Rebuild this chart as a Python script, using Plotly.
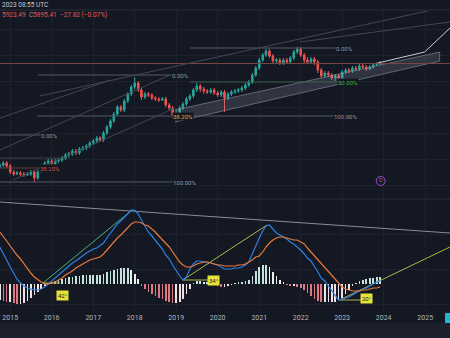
import pandas as pd
import plotly.graph_objects as go

BG = "#141823"
GRID = "#1e2230"

# ---------------- data ----------------
months = pd.date_range("2014-10-01", periods=111, freq="MS")

opens = [1419,1505,1591,1462,1204,1118,1161,1118,1075,1118,1204,946,1204,1462,1591,1677,1548,1677,1720,1806,
         1935,1978,2107,2021,2193,2236,2322,2451,2537,2666,2580,2881,3139,3397,3698,3999,3870,4257,4558,4859,
         5031,4730,4429,4558,4515,4386,4343,4300,4343,4085,3956,3655,3741,3956,4128,4343,4472,4730,4902,4773,
         4687,4644,4730,4601,4515,4644,4386,4558,4644,4687,4730,4816,4945,5074,5375,5676,6020,6235,6407,6192,
         5977,6020,5891,6020,5934,6106,6364,6493,6235,6020,5934,6063,5934,5590,5332,5461,5375,5246,5332,5203,
         5504,5590,5547,5676,5633,5762,5719,5633,5719,5805,5848]
highs = [1591,1677,1677,1548,1290,1247,1247,1204,1204,1290,1290,1290,1548,1677,1763,1763,1763,1806,1892,2021,
         2064,2193,2193,2279,2322,2408,2537,2623,2752,2752,2967,3225,3483,3784,4085,4085,4343,4644,4945,5289,
         5117,4816,4644,4644,4601,4472,4429,4429,4429,4171,4042,3870,4042,4214,4429,4558,4816,5031,4988,4859,
         4773,4816,4816,4687,4730,4730,4644,4730,4773,4816,4902,5031,5160,5461,5762,6106,6321,6493,6493,6278,
         6106,6106,6106,6106,6192,6450,6579,6579,6321,6149,6149,6149,6020,5676,5547,5547,5461,5418,5418,5590,
         5676,5676,5762,5762,5848,5848,5805,5805,5891,5934,5977]
lows = [1333,1419,1376,1118,1032,1075,1032,989,1032,1032,774,860,1161,1376,1505,1376,1419,1591,1634,1720,
        1806,1892,1935,1935,2107,2150,2236,2365,2451,2494,2494,2795,3053,3311,3612,3784,3784,4171,4472,4773,
        4644,4300,4343,4429,4300,4257,4214,4257,3999,3827,3526,3569,3655,3870,4042,4257,4386,4644,4644,4558,
        4558,4558,4515,4429,4429,3784,4300,4472,4558,4601,4644,4730,4859,4988,5289,5590,5934,6149,6106,5891,
        5891,5805,5805,5848,5848,6020,6278,6149,5891,5848,5848,5805,5461,5246,5246,5289,5160,5117,5117,5117,
        5418,5461,5461,5547,5547,5633,5547,5590,5633,5762,5805]
closes = [1505,1591,1462,1204,1118,1161,1118,1075,1118,1204,946,1204,1462,1591,1677,1548,1677,1720,1806,1935,
          1978,2107,2021,2193,2236,2322,2451,2537,2666,2580,2881,3139,3397,3698,3999,3870,4257,4558,4859,5031,
          4730,4429,4558,4515,4386,4343,4300,4343,4085,3956,3655,3741,3956,4128,4343,4472,4730,4902,4773,4687,
          4644,4730,4601,4515,4644,4386,4558,4644,4687,4730,4816,4945,5074,5375,5676,6020,6235,6407,6192,5977,
          6020,5891,6020,5934,6106,6364,6493,6235,6020,5934,6063,5934,5590,5332,5461,5375,5246,5332,5203,5504,
          5590,5547,5676,5633,5762,5719,5633,5719,5805,5848,5891]

macd_line = [370,310,240,170,110,50,10,-20,-40,-50,-60,-60,-50,-30,0,30,60,90,120,150,
             180,210,230,260,280,310,330,350,360,380,410,460,510,560,600,630,670,710,740,740,
             700,640,580,520,480,440,400,350,290,250,190,130,80,40,70,150,200,230,230,220,
             220,210,200,190,170,150,150,150,160,160,170,190,220,300,390,460,530,580,590,550,
             510,490,470,450,420,400,370,340,300,260,230,180,120,60,30,-20,-70,-120,-160,-150,
             -140,-130,-110,-90,-70,-50,-40,-20,0,20,40]
signal_line = [520,480,430,380,330,290,250,200,160,110,70,40,20,0,0,10,20,40,60,90,
               110,130,160,180,200,220,240,250,260,270,300,340,380,420,460,490,530,570,600,620,
               620,610,590,580,550,520,480,440,400,370,320,270,220,190,170,170,180,200,210,220,
               220,210,200,190,190,180,180,180,180,190,190,200,220,240,270,280,320,370,410,440,
               460,470,470,460,450,440,440,420,400,360,320,280,240,200,160,120,80,40,0,-30,
               -50,-60,-70,-70,-70,-60,-60,-50,-40,-40,-30]
hist_vals = [-160,-170,-180,-180,-190,-200,-200,-190,-170,-140,-110,-80,-50,-20,10,20,30,40,50,60,
             70,70,80,80,90,90,90,90,90,90,100,120,130,140,150,160,160,160,140,100,
             50,-20,-50,-80,-100,-120,-140,-150,-170,-180,-190,-190,-180,-150,-100,-50,10,30,30,20,
             20,10,-10,-20,-30,-30,-20,-10,10,20,20,30,40,80,130,170,190,190,170,120,
             80,40,20,-10,-20,-20,-30,-40,-60,-90,-120,-150,-170,-180,-180,-180,-180,-180,-160,-140,
             -100,-60,-20,10,30,40,50,60,60,70,70]

# drawing anchors (date, price) in the price pane
hlines = [  # start, end, level, colour
    ("2014-10-03", "2025-08-07", 5870, "#7a4640"),
    ("2019-05-01", "2022-11-15", 6536, "#545866"),
    ("2019-05-01", "2022-11-15", 5074, "#3f5a48"),
    ("2015-09-02", "2018-12-21", 5375, "#545866"),
    ("2015-08-24", "2022-11-15", 3612, "#545866"),
    ("2014-10-03", "2015-10-16", 2795, "#545866"),
    ("2014-10-03", "2016-03-14", 1806, "#3c404c"),
    ("2014-10-03", "2015-10-16", 1376, "#6a3a3a"),
    ("2014-10-03", "2019-01-08", 774, "#545866"),
]
level_labels = [  # date, price, text, colour
    ("2023-01-25", 6536, "0.00%", "#9598a1"),
    ("2019-02-12", 5375, "0.00%", "#9598a1"),
    ("2019-03-01", 3612, "38.20%", "#e0a040"),
    ("2023-02-03", 3612, "100.00%", "#9598a1"),
    ("2015-12-16", 2795, "0.00%", "#9598a1"),
    ("2015-12-16", 1376, "38.20%", "#c9504a"),
    ("2019-03-18", 774, "100.00%", "#9598a1"),
    ("2023-02-20", 5074, "50.00%", "#4caf50"),
]
trend_lines = [  # (date, price) pairs
    (("2014-10-03", 2150), ("2018-11-07", 5375)),
    (("2015-01-25", 860), ("2018-12-21", 3956)),
    (("2014-10-03", 3526), ("2017-06-01", 5160)),
    (("2015-09-19", 4472), ("2025-08-07", 8342)),
    (("2021-12-25", 6794), ("2025-08-07", 7654)),
]
band_dates = ["2018-12-21", "2025-05-08", "2025-05-08", "2018-12-21"]
band_prices = [3870, 6364, 5977, 3354]
fan_dates = ["2023-11-10", "2024-12-27", "2025-08-07"]
fan_prices = [5891, 6364, 7396]

# drawing anchors in the MACD pane
macd_trend = [  # start, end, colour
    (("2014-10-03", 820), ("2025-08-07", 510), "#8a8d96"),
    (("2015-10-16", 10), ("2017-12-08", 740), "#4caf7a"),
    (("2019-03-01", 40), ("2021-03-10", 590), "#b0b347"),
    (("2022-12-09", -160), ("2025-08-07", 370), "#b0b347"),
    (("2015-10-16", 10), ("2016-03-14", 10), "#b0b347"),
    (("2019-03-01", 40), ("2019-10-15", 40), "#b0b347"),
    (("2022-12-09", -160), ("2023-06-15", -160), "#b0b347"),
]
angle_labels = [("2016-04-08", -110, "42°"), ("2019-11-22", 40, "34°"), ("2023-08-07", -140, "20°")]

# ---------------- figure ----------------
fig = go.Figure()

fig.add_trace(go.Scatter(x=band_dates, y=band_prices, fill="toself", mode="lines",
                         line=dict(color="rgba(150,155,170,0.55)", width=1),
                         fillcolor="rgba(150,155,170,0.22)", xaxis="x", yaxis="y",
                         showlegend=False, hoverinfo="skip"))
for a, b, lvl, col in hlines:
    fig.add_trace(go.Scatter(x=[a, b], y=[lvl, lvl], mode="lines", line=dict(color=col, width=1),
                             xaxis="x", yaxis="y", showlegend=False, hoverinfo="skip"))
for (d0, p0), (d1, p1) in trend_lines:
    fig.add_trace(go.Scatter(x=[d0, d1], y=[p0, p1], mode="lines", line=dict(color="#434756", width=1),
                             xaxis="x", yaxis="y", showlegend=False, hoverinfo="skip"))
fig.add_trace(go.Scatter(x=fan_dates, y=fan_prices, mode="lines", line=dict(color="#c9ccd4", width=1),
                         xaxis="x", yaxis="y", showlegend=False, hoverinfo="skip"))

fig.add_trace(go.Candlestick(
    x=months, open=opens, high=highs, low=lows, close=closes,
    increasing=dict(line=dict(color="#26a69a", width=1), fillcolor="#26a69a"),
    decreasing=dict(line=dict(color="#ef5350", width=1), fillcolor="#ef5350"),
    whiskerwidth=0, xaxis="x", yaxis="y", showlegend=False, hoverinfo="skip"))

fig.add_trace(go.Scatter(x=["2023-12-06"], y=[817], mode="markers+text", text=["D"],
                         textfont=dict(size=5, color="#b05ad0"), textposition="middle center",
                         marker=dict(symbol="circle-open", size=9, color="#9c4dcc", line=dict(width=1)),
                         xaxis="x", yaxis="y", showlegend=False, hoverinfo="skip"))

# MACD pane
hcolors = []
for k, v in enumerate(hist_vals):
    prev = hist_vals[k - 1] if k else v
    if v >= 0:
        hcolors.append("#c4e3dc" if v >= prev else "#e9f0ee")
    else:
        hcolors.append("#dc7880" if v < prev else "#efe2e4")
fig.add_trace(go.Bar(x=months, y=hist_vals, marker=dict(color=hcolors, line=dict(width=0)),
                     width=4.5e8, xaxis="x2", yaxis="y2", showlegend=False, hoverinfo="skip"))
for (d0, v0), (d1, v1), col in macd_trend:
    fig.add_trace(go.Scatter(x=[d0, d1], y=[v0, v1], mode="lines", line=dict(color=col, width=1),
                             xaxis="x2", yaxis="y2", showlegend=False, hoverinfo="skip"))
fig.add_trace(go.Scatter(x=months, y=macd_line, mode="lines", line=dict(color="#2f7fe6", width=1.2),
                         xaxis="x2", yaxis="y2", showlegend=False, hoverinfo="skip"))
fig.add_trace(go.Scatter(x=months, y=signal_line, mode="lines", line=dict(color="#e8793a", width=1.2),
                         xaxis="x2", yaxis="y2", showlegend=False, hoverinfo="skip"))

annotations = []
for d, p, t, c in level_labels:
    annotations.append(dict(x=d, y=p, xref="x", yref="y", text=t, showarrow=False,
                            font=dict(size=6, color=c, family="Roboto"), bgcolor=BG, borderpad=0))
for d, v, t in angle_labels:
    annotations.append(dict(x=d, y=v, xref="x2", yref="y2", text=t, showarrow=False,
                            font=dict(size=6, color="#1a1a1a", family="Roboto"), bgcolor="#e6e23a",
                            borderpad=1))
annotations.append(dict(x=0, y=1 - 5 / 338, xref="paper", yref="paper", xanchor="left", yanchor="middle",
                        text="2023 08:55 UTC", showarrow=False,
                        font=dict(size=6.5, color="#c8cad2", family="Roboto")))
annotations.append(dict(x=0, y=1 - 15.5 / 338, xref="paper", yref="paper", xanchor="left", yanchor="middle",
                        text="<span style='color:#e0585a'>5923.49</span>  <span style='color:#9598a1'>C</span>"
                             "<span style='color:#e0585a'>5895.41  −27.82 (−0.07%)</span>",
                        showarrow=False, font=dict(size=6.5, family="Roboto")))

shapes = [
    dict(type="rect", xref="paper", yref="paper", x0=0, x1=1, y0=0, y1=15 / 338,
         fillcolor="#1c202b", line=dict(width=0), layer="below"),
    dict(type="line", xref="paper", yref="paper", x0=0, x1=1, y0=1 - 10 / 338, y1=1 - 10 / 338,
         line=dict(color="#2a2e39", width=1)),
    dict(type="line", xref="paper", yref="paper", x0=0, x1=1, y0=1 - 199 / 338, y1=1 - 199 / 338,
         line=dict(color="#2a2e39", width=1)),
    dict(type="rect", xref="paper", yref="paper", x0=445 / 450, x1=1, y0=15 / 338, y1=25 / 338,
         fillcolor="#22b5d6", line=dict(width=0)),
]

x_range = ["2014-10-03", "2025-08-07"]
fig.update_layout(
    width=450, height=338, margin=dict(l=0, r=0, t=0, b=0),
    paper_bgcolor=BG, plot_bgcolor=BG, showlegend=False, bargap=0,
    annotations=annotations, shapes=shapes,
    xaxis=dict(domain=[0, 1], anchor="y", range=x_range, type="date", showticklabels=False,
               showgrid=True, gridcolor=GRID, gridwidth=1, tick0="2015-01-01", dtick="M12",
               rangeslider=dict(visible=False), zeroline=False, fixedrange=True),
    xaxis2=dict(domain=[0, 1], anchor="y2", range=x_range, type="date", showgrid=True, gridcolor=GRID,
                tick0="2015-01-01", dtick="M12", tickformat="%Y", ticks="",
                tickfont=dict(size=7, color="#b2b5be", family="Roboto"), zeroline=False),
    yaxis=dict(domain=[1 - 198 / 338, 1 - 11 / 338], range=[86, 8127], showticklabels=False,
               showgrid=True, gridcolor=GRID, tick0=645, dtick=1118, zeroline=False),
    yaxis2=dict(domain=[1 - 312 / 338, 1 - 200 / 338], range=[-280, 840], showticklabels=False,
                showgrid=True, gridcolor=GRID, tick0=-200, dtick=350, zeroline=False),
)

fig.write_html("out.html")
